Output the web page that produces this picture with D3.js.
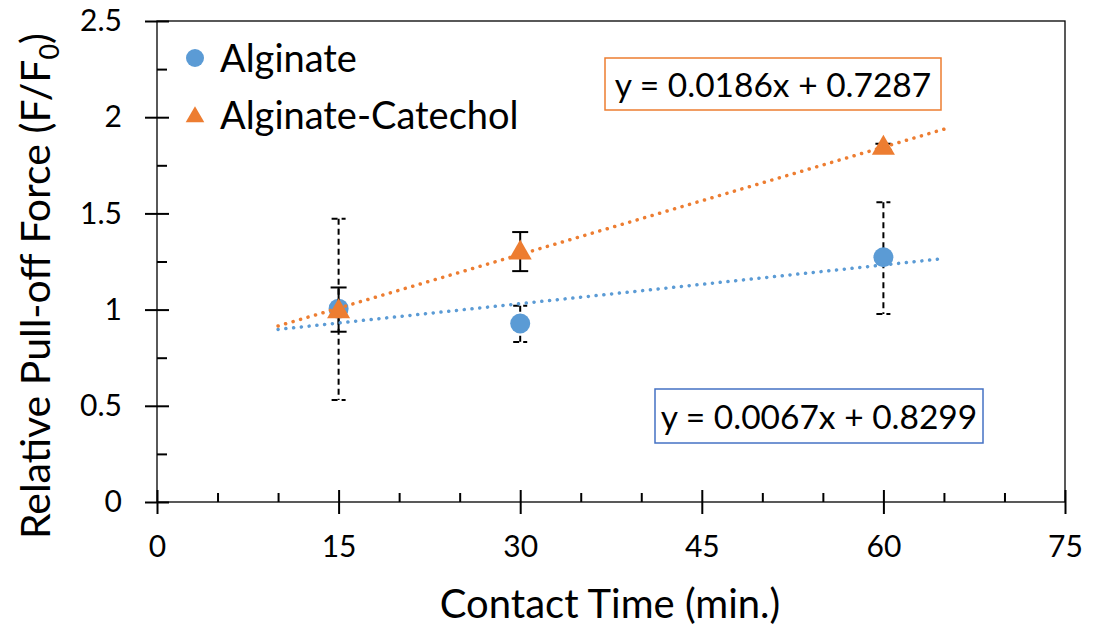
<!DOCTYPE html>
<html>
<head>
<meta charset="utf-8">
<script src="https://cdn.jsdelivr.net/npm/d3@7/dist/d3.min.js"></script>
<style>
body { margin: 0; background: #fff; }
text { font-family: Lato, "Open Sans", sans-serif; fill: #000; }
</style>
</head>
<body>
<svg id="chart"></svg>
<script>
// data
var times = [15, 30, 60]
var alginate = [1.005, 0.928, 1.272]
var alginateUp = [1.472, 1.020, 1.558]
var alginateDown = [0.530, 0.832, 0.977]
var catechol = [0.995, 1.300, 1.845]
var catecholUp = [1.115, 1.403, 1.862]
var catecholDown = [0.885, 1.200, 1.830]
var fitAlginate = {slope: 0.0067, icpt: 0.8299, label: "y = 0.0067x + 0.8299"}
var fitCatechol = {slope: 0.0186, icpt: 0.7287, label: "y = 0.0186x + 0.7287"}
var fitRange = [10, 65]
var xTicks = [0, 15, 30, 45, 60, 75]
var yTicks = [0, 0.5, 1, 1.5, 2, 2.5]

var blue = "#5B9BD5"
var orange = "#ED7D31"

var screen = {width: 1102, height: 632}
var margins = {top: 21, left: 157, right: 37, bottom: 130}
var graph = {
    width: screen.width - margins.left - margins.right,
    height: screen.height - margins.top - margins.bottom
}

var svg = d3.select("#chart")
    .attr("width", screen.width)
    .attr("height", screen.height)

var xScale = d3.scaleLinear().domain([0, 75]).range([0, graph.width])
var yScale = d3.scaleLinear().domain([0, 2.5]).range([graph.height, 0])

var g = svg.append("g")
    .attr("transform", "translate(" + margins.left + "," + margins.top + ")")

// plot box
g.append("rect")
    .attr("width", graph.width)
    .attr("height", graph.height)
    .attr("fill", "none")
    .attr("stroke", "#000")
    .attr("stroke-width", 1.3)

// minor ticks (inside only)
var xMinor = d3.range(0, 76, 5).filter(function(d) { return d % 15 != 0 })
var yMinor = d3.range(0.25, 2.5, 0.5)

g.append("g")
    .attr("transform", "translate(0," + graph.height + ")")
    .call(d3.axisTop(xScale).tickValues(xMinor).tickSize(9).tickFormat(""))
g.append("g")
    .call(d3.axisRight(yScale).tickValues(yMinor).tickSize(10).tickFormat(""))

// major axes
var xAxis = g.append("g")
    .attr("transform", "translate(0," + graph.height + ")")
    .call(d3.axisBottom(xScale).tickValues(xTicks).tickSize(12).tickPadding(22).tickFormat(d3.format("d")))
var yAxis = g.append("g")
    .call(d3.axisLeft(yScale).tickValues(yTicks).tickSize(12).tickPadding(23).tickFormat(function(d) { return String(d) }))

xAxis.selectAll(".tick line").clone().attr("y2", -12)
yAxis.selectAll(".tick line").clone().attr("x2", 12)

g.selectAll(".domain").remove()
g.selectAll(".tick line").attr("stroke", "#000").attr("stroke-width", 2)
g.selectAll(".tick text")
    .attr("font-family", "Lato, sans-serif")
    .attr("font-size", 30)
    .attr("fill", "#000")

// error bars
var drawErrors = function(vals, up, down, dash, cap)
{
    var bars = g.append("g")
        .attr("stroke", "#000")
        .attr("stroke-width", 2)
        .attr("stroke-dasharray", dash)
    times.forEach(function(t, i)
    {
        var x = xScale(t)
        bars.append("line")
            .attr("x1", x).attr("x2", x)
            .attr("y1", yScale(up[i])).attr("y2", yScale(down[i]))
        bars.append("line")
            .attr("x1", x - cap).attr("x2", x + cap)
            .attr("y1", yScale(up[i])).attr("y2", yScale(up[i]))
        bars.append("line")
            .attr("x1", x - cap).attr("x2", x + cap)
            .attr("y1", yScale(down[i])).attr("y2", yScale(down[i]))
    })
}

var triangle = d3.symbol().type(d3.symbolTriangle).size(230)

drawErrors(alginate, alginateUp, alginateDown, "6 4", 7)

g.append("g")
    .selectAll("circle")
    .data(alginate)
    .enter()
    .append("circle")
    .attr("cx", function(d, i) { return xScale(times[i]) })
    .attr("cy", function(d) { return yScale(d) })
    .attr("r", 10)
    .attr("fill", blue)

drawErrors(catechol, catecholUp, catecholDown, null, 8)

g.append("g")
    .selectAll("path")
    .data(catechol)
    .enter()
    .append("path")
    .attr("d", triangle)
    .attr("transform", function(d, i) { return "translate(" + xScale(times[i]) + "," + (yScale(d) + 1) + ")" })
    .attr("fill", orange)

// trendlines
var drawFit = function(fit, color)
{
    var line = d3.line()
        .x(function(t) { return xScale(t) })
        .y(function(t) { return yScale(fit.slope * t + fit.icpt) })
    g.append("path")
        .datum(fitRange)
        .attr("d", line)
        .attr("fill", "none")
        .attr("stroke", color)
        .attr("stroke-width", 3.5)
        .attr("stroke-linecap", "round")
        .attr("stroke-dasharray", "0.1 7.7")
}
drawFit(fitAlginate, blue)
drawFit(fitCatechol, orange)

// equation boxes
var drawEquation = function(fit, color, box)
{
    svg.append("rect")
        .attr("x", box.x).attr("y", box.y)
        .attr("width", box.w).attr("height", box.h)
        .attr("fill", "#fff")
        .attr("stroke", color)
        .attr("stroke-width", 1.5)
    svg.append("text")
        .attr("x", box.x + box.w / 2)
        .attr("y", box.y + box.h / 2 + 13)
        .attr("text-anchor", "middle")
        .attr("font-size", 33.5)
        .text(fit.label)
}
drawEquation(fitCatechol, orange, {x: 605, y: 58, w: 336, h: 52})
drawEquation(fitAlginate, "#4472C4", {x: 655, y: 389, w: 328, h: 54})

// legend
var legend = svg.append("g")
legend.append("circle")
    .attr("cx", 195).attr("cy", 58).attr("r", 9)
    .attr("fill", blue)
legend.append("text")
    .attr("x", 220).attr("y", 72)
    .attr("font-size", 38)
    .text("Alginate")
legend.append("path")
    .attr("d", d3.symbol().type(d3.symbolTriangle).size(150))
    .attr("transform", "translate(195,117)")
    .attr("fill", orange)
legend.append("text")
    .attr("x", 220).attr("y", 129)
    .attr("font-size", 38)
    .text("Alginate-Catechol")

// axis titles
svg.append("text")
    .attr("x", 610)
    .attr("y", 618)
    .attr("text-anchor", "middle")
    .attr("font-size", 40)
    .text("Contact Time (min.)")

var yTitle = svg.append("text")
    .attr("transform", "translate(50,286) rotate(-90)")
    .attr("text-anchor", "middle")
    .attr("font-size", 41)
yTitle.append("tspan").text("Relative Pull-off Force (F/F")
yTitle.append("tspan").attr("font-size", 27).attr("dy", 9).text("0")
yTitle.append("tspan").attr("dy", -9).text(")")
</script>
</body>
</html>
